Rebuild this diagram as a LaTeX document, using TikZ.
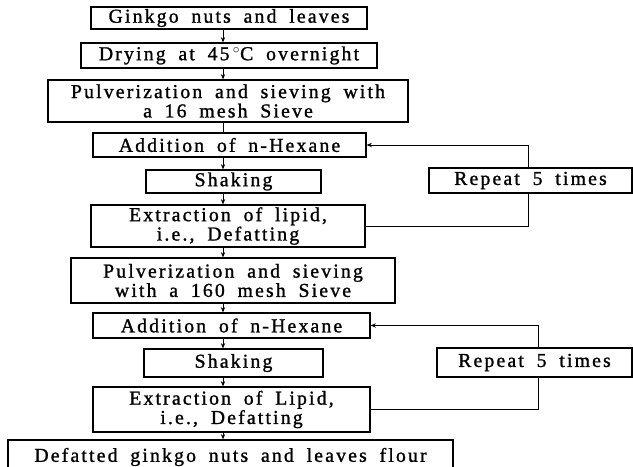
\documentclass[tikz,border=0pt]{standalone}
\usepackage{fontspec}
\setmainfont[LetterSpace=11,WordSpace=1.8,FakeBold=1.2]{Liberation Serif}
\usetikzlibrary{arrows.meta}
\tikzset{
  bx/.style 2 args={draw, line width=0.8pt, inner sep=0pt, minimum width=#1*0.75pt, minimum height=#2*0.75pt, align=center, font=\fontsize{14.8}{14.5}\selectfont},
  flow/.style={line width=0.7pt},
  arr/.style={flow, -{Stealth[length=4pt,width=3.2pt]}}
}
\begin{document}
\begin{tikzpicture}[x=0.75pt,y=-0.75pt]
\useasboundingbox (0,0) rectangle (633,467);
\coordinate (cx) at (223,0);
\coordinate (fx1) at (528,0);
\coordinate (fx2) at (538,0);
\node[bx={276}{22}] (n1) at (229,18) {Ginkgo nuts and leaves};
\node[bx={296}{25}] (n2) at (229,55.5) {Drying at 45\,$^\circ$C overnight};
\node[bx={360}{42}] (n3) at (228,101) {Pulverization and sieving with\\a 16 mesh Sieve};
\node[bx={273}{24}] (n4) at (229.5,145) {Addition of n-Hexane};
\node[bx={175}{23}] (n5) at (233.5,181.5) {Shaking};
\node[bx={274}{42}] (n6) at (228,226) {Extraction of lipid,\\i.e., Defatting};
\node[bx={203}{25}] (r1) at (530.5,180.5) {Repeat 5 times};
\node[bx={324}{45}] (n7) at (233,280.5) {Pulverization and sieving\\with a 160 mesh Sieve};
\node[bx={277}{25}] (n8) at (231.5,325.5) {Addition of n-Hexane};
\node[bx={179}{28}] (n9) at (233.5,363) {Shaking};
\node[bx={277}{45}] (n10) at (231.5,409.5) {Extraction of Lipid,\\i.e., Defatting};
\node[bx={195}{29}] (r2) at (534.5,362.5) {Repeat 5 times};
\node[bx={445}{34}] (n11) at (230.5,457) {Defatted ginkgo nuts and leaves flour};
\draw[arr] (n1.south -| cx) -- (n2.north -| cx);
\draw[arr] (n2.south -| cx) -- (n3.north -| cx);
\draw[flow] (n3.south -| cx) -- (n4.north -| cx);
\draw[arr] (n4.south -| cx) -- (n5.north -| cx);
\draw[arr] (n5.south -| cx) -- (n6.north -| cx);
\draw[arr] (n6.south -| cx) -- (n7.north -| cx);
\draw[arr] (n7.south -| cx) -- (n8.north -| cx);
\draw[arr] (n8.south -| cx) -- (n9.north -| cx);
\draw[arr] (n9.south -| cx) -- (n10.north -| cx);
\draw[arr] (n10.south -| cx) -- (n11.north -| cx);
\draw[flow] (n6.east) -| (r1.south -| fx1);
\draw[arr] (r1.north -| fx1) |- (n4.east);
\draw[flow] (n10.east) -| (r2.south -| fx2);
\draw[arr] (r2.north -| fx2) |- (n8.east);
\end{tikzpicture}
\end{document}
